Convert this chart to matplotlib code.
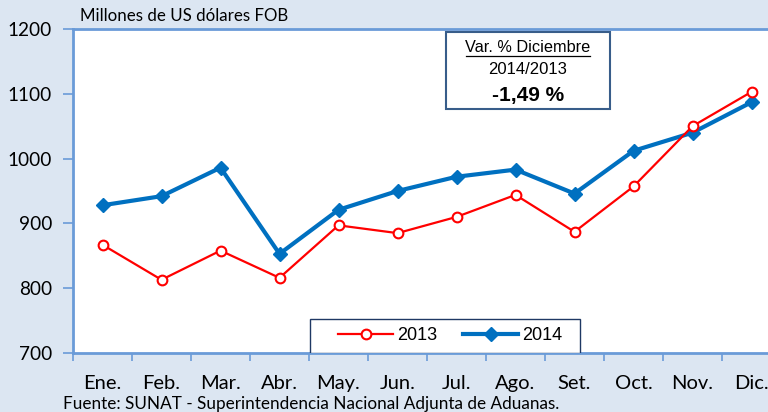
import numpy as np
import matplotlib
matplotlib.use("Agg")
import matplotlib.pyplot as plt

months = ['Ene.', 'Feb.', 'Mar.', 'Abr.', 'May.', 'Jun.', 'Jul.', 'Ago.', 'Set.', 'Oct.', 'Nov.', 'Dic.']
vals_2013 = [867, 813, 858, 816, 897, 885, 910, 944, 887, 957, 1050, 1103]
vals_2014 = [928, 942, 986, 853, 921, 950, 972, 983, 946, 1012, 1040, 1087]
y_ticks = [700, 800, 900, 1000, 1100, 1200]

BG = '#dce6f2'
AXC = '#6a9bd8'

fig = plt.figure(figsize=(7.68, 4.12), dpi=100, facecolor=BG)
# plot area runs past the right edge of the picture (cropped in the original)
ax = fig.add_axes([73 / 768, 1 - 353 / 412, 708 / 768, 324 / 412])
ax.set_facecolor('white')

x = np.arange(len(months))
ax.plot(x, vals_2013, color='#ff0000', lw=1.6, marker='o', ms=7,
        mfc='white', mec='#ff0000', mew=1.5, label='2013', zorder=3)
ax.plot(x, vals_2014, color='#0070c0', lw=3, marker='D', ms=7.5,
        mfc='#0070c0', mec='#0070c0', label='2014', zorder=2)

ax.set_xlim(-0.5, len(months) - 0.5)
ax.set_ylim(700, 1200)
ax.set_yticks(y_ticks)
ax.set_yticklabels([str(v) for v in y_ticks], fontsize=13.7, family='Lato')
ax.set_xticks(x)
ax.set_xticklabels(months, fontsize=14.5, family='Lato')
ax.set_xticks(np.arange(-0.5, len(months), 1), minor=True)
ax.tick_params(axis='x', which='major', length=0, pad=16)
ax.tick_params(axis='x', which='minor', length=6, color=AXC, width=1.2)
ax.tick_params(axis='y', length=7, color=AXC, width=1.2, pad=8)

for s in ['left', 'bottom', 'top']:
    ax.spines[s].set_color(AXC)
    ax.spines[s].set_linewidth(2)
ax.spines['right'].set_visible(False)

# legend frame drawn by hand so the inner margins match
frame = plt.Rectangle((237 / 708, 0), 270 / 708, 34 / 324, transform=ax.transAxes,
                      facecolor='white', edgecolor='#1f3864', lw=1, zorder=4)
ax.add_patch(frame)
leg = ax.legend(loc='center left', bbox_to_anchor=(265 / 708, 17 / 324), ncol=2,
                frameon=False, borderaxespad=0, borderpad=0,
                prop={'family': 'Liberation Sans', 'size': 13},
                handlelength=3.05, handletextpad=0.22, columnspacing=1.44)
leg.set_zorder(5)

fig.text(80 / 768, 1 - 16 / 412, 'Millones de US dólares FOB', fontsize=12.2,
         family='Lato', va='center', ha='left')
fig.text(63 / 768, 1 - 404 / 412,
         'Fuente: SUNAT - Superintendencia Nacional Adjunta de Aduanas.',
         fontsize=12.3, family='Lato', va='center', ha='left')

# annotation box
bx0, bx1, by0, by1 = 446 / 768, 610 / 768, 1 - 109 / 412, 1 - 32 / 412
box = plt.Rectangle((bx0, by0), bx1 - bx0, by1 - by0, transform=fig.transFigure,
                    facecolor='white', edgecolor='#385d8a', lw=1.5, zorder=5)
fig.patches.append(box)
cx = (bx0 + bx1) / 2
fig.text(cx, 1 - 48 / 412, 'Var. % Diciembre', ha='center', va='center',
         fontsize=11.7, family='Liberation Sans', zorder=6)
fig.add_artist(plt.Line2D([cx - 62 / 768, cx + 62 / 768], [1 - 55.5 / 412, 1 - 55.5 / 412],
                          transform=fig.transFigure, color='black', lw=0.9, zorder=6))
fig.text(cx, 1 - 70 / 412, '2014/2013', ha='center', va='center',
         fontsize=12, family='Liberation Sans', zorder=6)
fig.text(cx, 1 - 95 / 412, '-1,49 %', ha='center', va='center',
         fontsize=15, fontweight='bold', family='Liberation Sans', zorder=6)

fig.savefig('out.png', dpi=100, facecolor=BG)
